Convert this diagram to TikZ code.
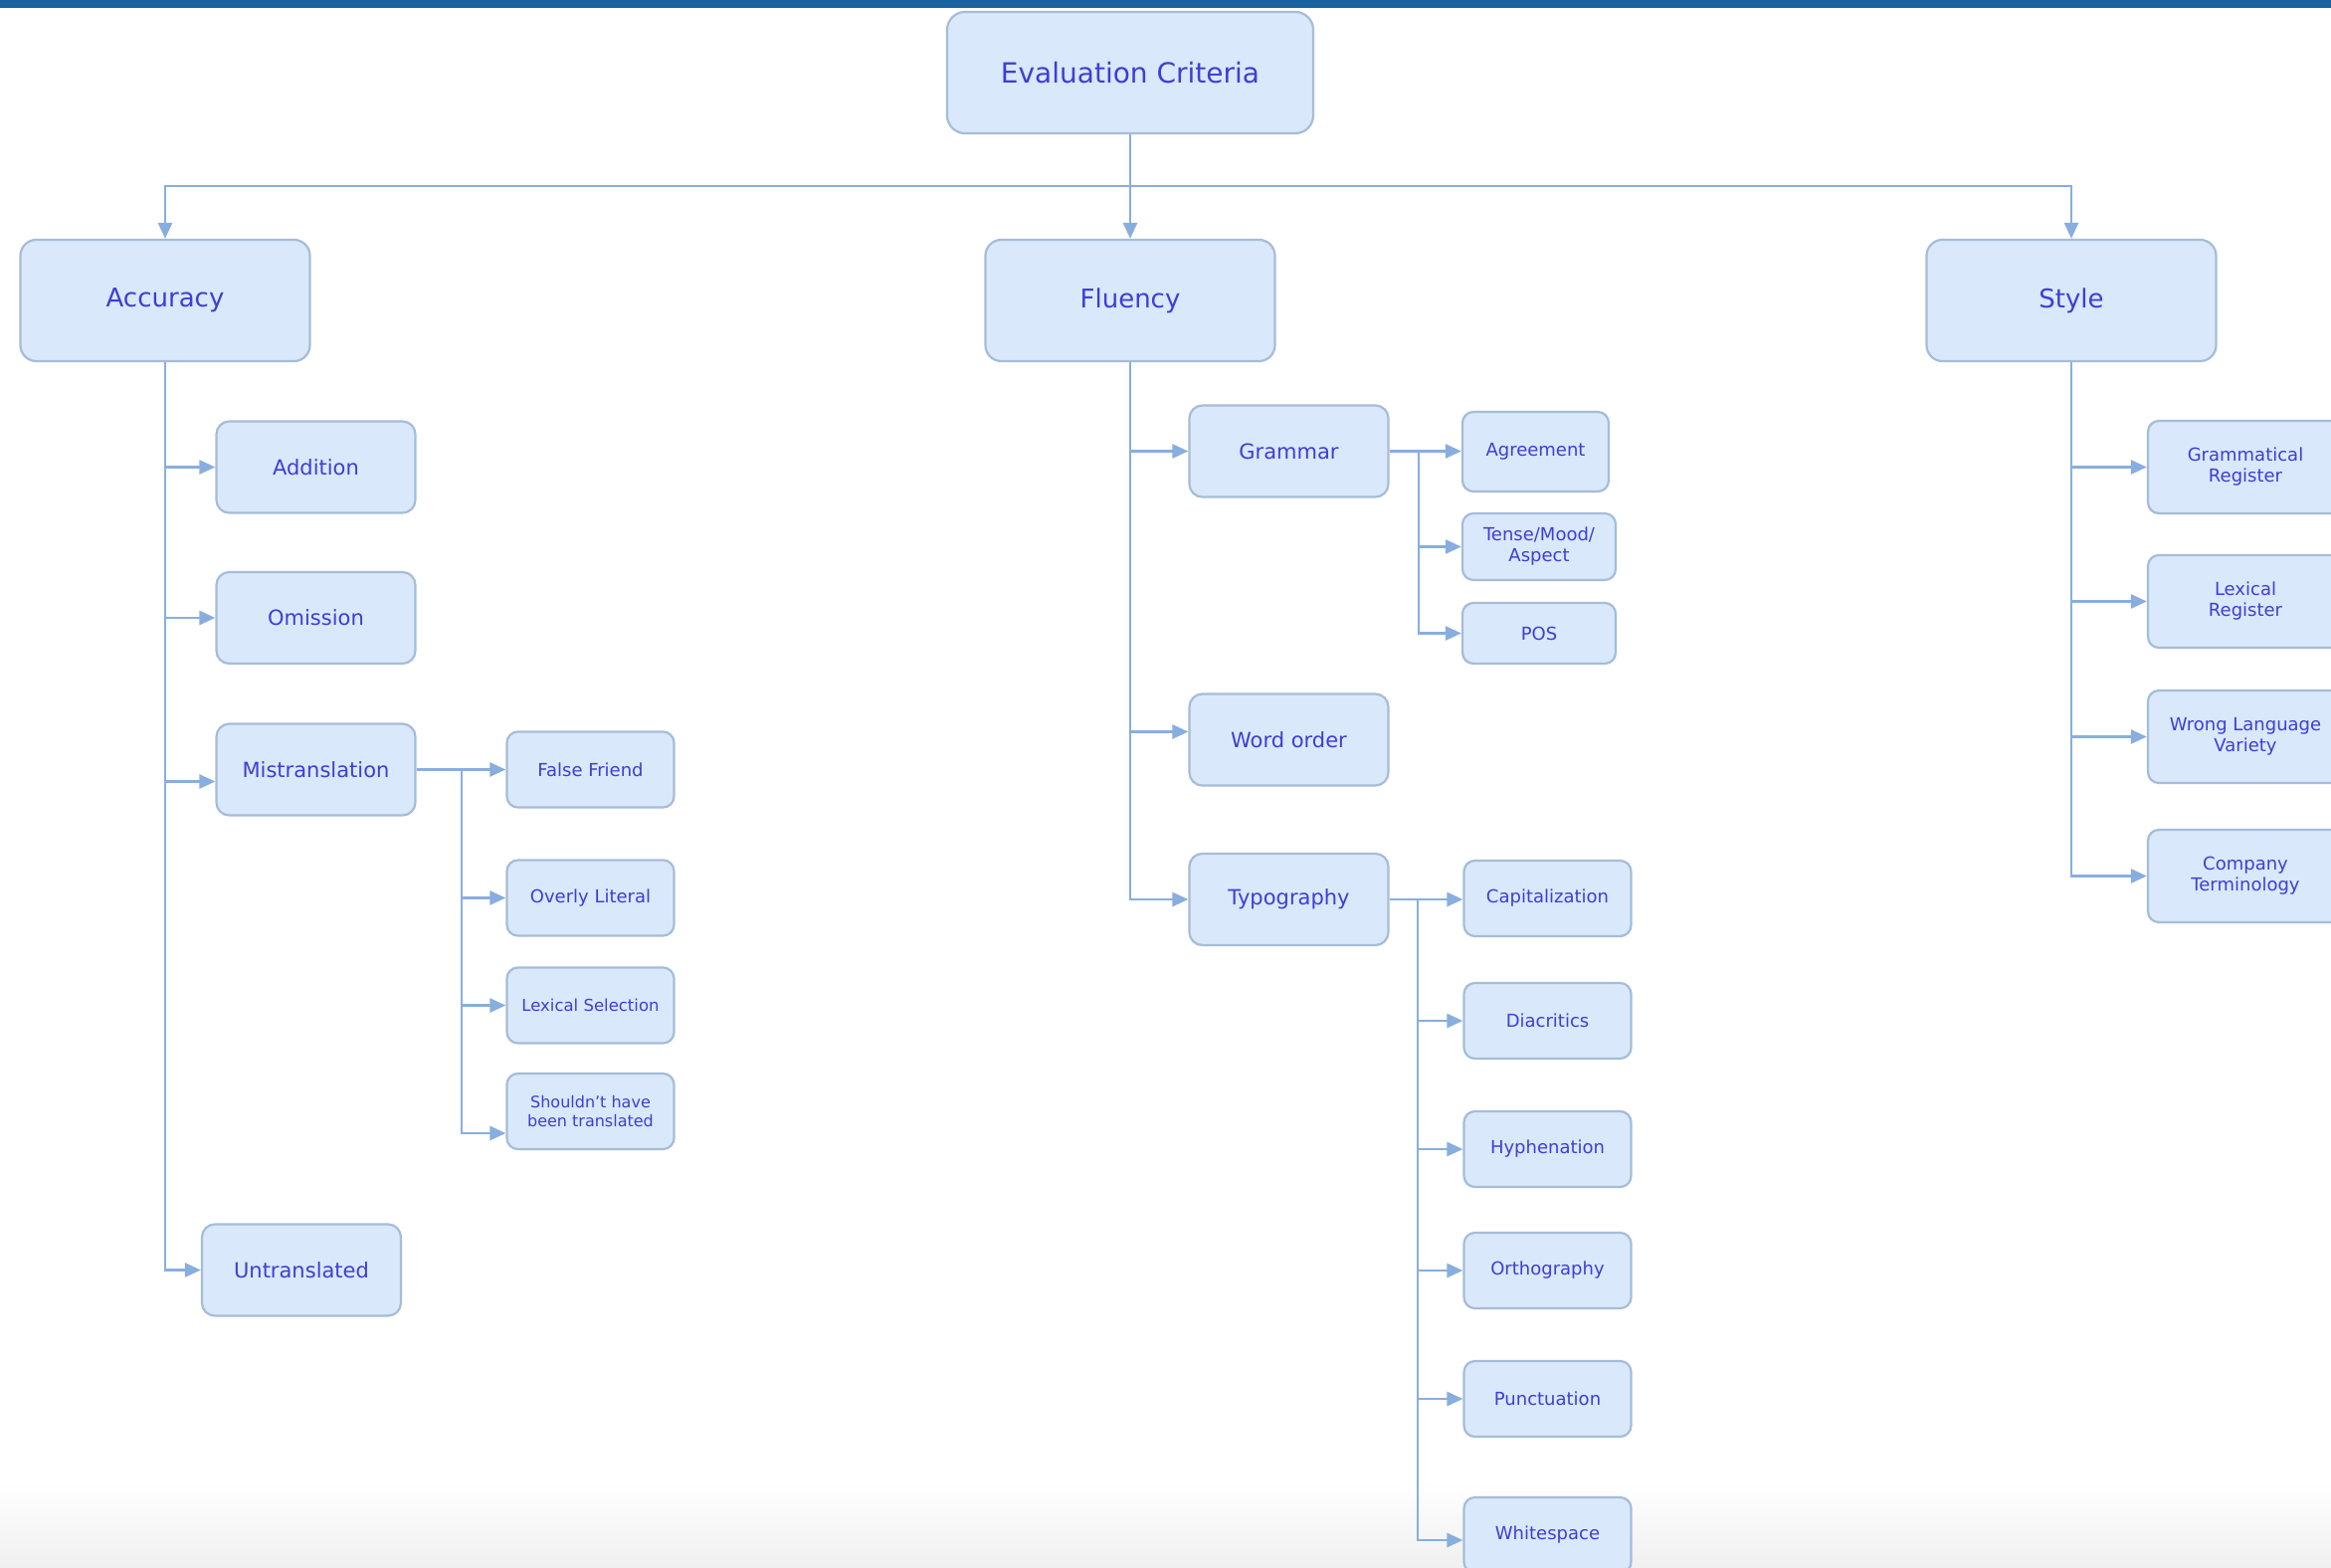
\documentclass[tikz,border=0pt]{standalone}
\usepackage{fontspec}
\setmainfont{DejaVu Sans}
\usetikzlibrary{arrows.meta,calc}
\definecolor{boxfill}{HTML}{DAE8FB}
\definecolor{boxline}{HTML}{A6BCD8}
\definecolor{txt}{HTML}{3E3ED6}
\definecolor{conn}{HTML}{88AEDF}
\definecolor{topbar}{HTML}{1B63A0}
\begin{document}
\begin{tikzpicture}[x=1pt,y=-1pt,
  box/.style={draw=boxline, fill=boxfill, line width=2.2pt, text=txt, align=center, inner sep=0pt},
  lvlzero/.style={box, minimum width=368pt, minimum height=122pt, rounded corners=18pt, font=\fontsize{28}{32}\selectfont},
  lvlone/.style={box, minimum width=291pt, minimum height=122pt, rounded corners=16pt, font=\fontsize{26}{30}\selectfont},
  lvltwo/.style={box, minimum width=200pt, minimum height=92pt, rounded corners=13pt, font=\fontsize{21}{25}\selectfont},
  lvlthree/.style={box, minimum width=168pt, minimum height=76pt, rounded corners=11pt, font=\fontsize{18}{21}\selectfont},
  stylekid/.style={lvlthree, minimum width=196pt, minimum height=93pt},
  arr/.style={draw=conn, line width=2.6pt, -{Triangle[length=16pt,width=14pt]}}
]
\useasboundingbox (0,0) rectangle (2343,1576);
\clip (0,0) rectangle (2343,1576);
\fill[white] (0,0) rectangle (2343,1576);
\shade[top color=white, bottom color=black!6] (0,1490) rectangle (2343,1576);
\fill[topbar] (0,0) rectangle (2343,8);

% nodes
\node[lvlzero] (top) at (1136,73) {Evaluation Criteria};
\node[lvlone] (acc) at (166,302) {Accuracy};
\node[lvlone] (flu) at (1136,302) {Fluency};
\node[lvlone] (sty) at (2082,302) {Style};

\node[lvltwo] (add) at (317.5,469.5) {Addition};
\node[lvltwo] (omi) at (317.5,621) {Omission};
\node[lvltwo] (mis) at (317.5,773.5) {Mistranslation};
\node[lvltwo] (unt) at (303,1276.5) {Untranslated};

\node[lvlthree] (ff) at (593.5,773.5) {False Friend};
\node[lvlthree] (ol) at (593.5,902.5) {Overly Literal};
\node[lvlthree, font=\fontsize{16.5}{19}\selectfont] (ls) at (593.5,1010.5) {Lexical Selection};
\node[lvlthree, font=\fontsize{16}{19}\selectfont] (sh) at (593.5,1117) {Shouldn't have\\been translated};

\node[lvltwo] (gram) at (1295.5,453.5) {Grammar};
\node[lvltwo] (wo) at (1295.5,743.5) {Word order};
\node[lvltwo] (typo) at (1295.5,904) {Typography};

\node[lvlthree, minimum width=147pt, minimum height=80pt] (agr) at (1543.5,454) {Agreement};
\node[lvlthree, minimum width=154pt, minimum height=67pt] (tma) at (1547,549.5) {Tense/Mood/\\Aspect};
\node[lvlthree, minimum width=154pt, minimum height=61pt] (pos) at (1547,636.5) {POS};

\node[lvlthree] (cap) at (1555.5,903) {Capitalization};
\node[lvlthree] (dia) at (1555.5,1026) {Diacritics};
\node[lvlthree] (hyp) at (1555.5,1155) {Hyphenation};
\node[lvlthree] (ort) at (1555.5,1277) {Orthography};
\node[lvlthree] (pun) at (1555.5,1406) {Punctuation};
\node[lvlthree] (ws) at (1555.5,1543) {Whitespace};

\node[stylekid] (gr) at (2257,469.5) {Grammatical\\Register};
\node[stylekid] (lr) at (2257,604.5) {Lexical\\Register};
\node[stylekid] (wlv) at (2257,740.5) {Wrong Language\\Variety};
\node[stylekid] (ct) at (2257,880.5) {Company\\Terminology};

% connectors
\coordinate (bus) at (1136,187);
\draw[arr] (top.south) -- (flu.north);
\draw[arr] (bus) -| (acc.north);
\draw[arr] (bus) -| (sty.north);

\draw[arr] (acc.south) |- (add.west);
\draw[arr] (acc.south) |- (omi.west);
\draw[arr] (acc.south) |- ([yshift=-12pt]mis.west);
\draw[arr] (acc.south) |- (unt.west);

\coordinate (mt) at (464,773.5);
\draw[arr] (mis.east) -- (ff.west);
\draw[arr] (mt) |- (ol.west);
\draw[arr] (mt) |- (ls.west);
\draw[arr] (mt) |- ([yshift=-22pt]sh.west);

\draw[arr] (flu.south) |- (gram.west);
\draw[arr] (flu.south) |- ([yshift=8pt]wo.west);
\draw[arr] (flu.south) |- (typo.west);

\coordinate (gt) at (1426,453.5);
\draw[arr] (gram.east) -- (gram.east -| agr.west);
\draw[arr] (gt) |- (tma.west);
\draw[arr] (gt) |- (pos.west);

\coordinate (tt) at (1425,904);
\draw[arr] (typo.east) -- (typo.east -| cap.west);
\draw[arr] (tt) |- (dia.west);
\draw[arr] (tt) |- (hyp.west);
\draw[arr] (tt) |- (ort.west);
\draw[arr] (tt) |- (pun.west);
\draw[arr] (tt) |- ([yshift=-5pt]ws.west);

\draw[arr] (sty.south) |- (gr.west);
\draw[arr] (sty.south) |- (lr.west);
\draw[arr] (sty.south) |- (wlv.west);
\draw[arr] (sty.south) |- (ct.west);
\end{tikzpicture}
\end{document}
